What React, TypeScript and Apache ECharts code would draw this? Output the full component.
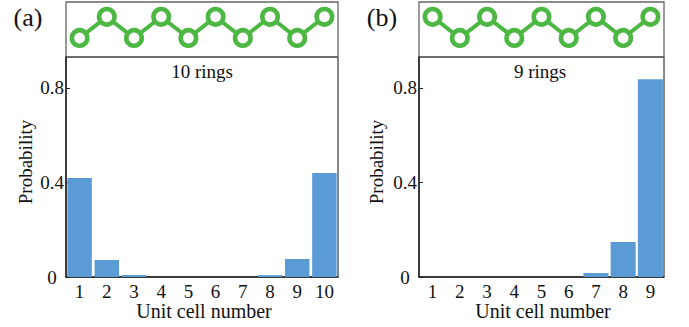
import React, { useEffect, useRef } from "react";
import * as echarts from "echarts";

// ---- data ----
const cellsA = ["1", "2", "3", "4", "5", "6", "7", "8", "9", "10"];
const probA = [0.419, 0.072, 0.008, 0.0, 0.0, 0.0, 0.0, 0.008, 0.076, 0.44];
const ringsA = [0, 1, 0, 1, 0, 1, 0, 1, 0, 1];

const cellsB = ["1", "2", "3", "4", "5", "6", "7", "8", "9"];
const probB = [0.0, 0.0, 0.0, 0.0, 0.0, 0.0, 0.017, 0.148, 0.836];
const ringsB = [1, 0, 1, 0, 1, 0, 1, 0, 1];

const yTicks = [0, 0.4, 0.8];
const yMax = 0.93;

const titleA = "10 rings";
const titleB = "9 rings";
const xName = "Unit cell number";
const yName = "Probability";

const FONT = "'Liberation Serif', 'Times New Roman', serif";
const BAR = "#5b9bd5";
const GREEN = "#4cb843";
const AXIS = "#222";

function plotX(gridIndex: number, data: string[]) {
  return {
    type: "category",
    gridIndex,
    data,
    boundaryGap: true,
    axisLine: { show: true, lineStyle: { color: AXIS, width: 1.5 } },
    axisTick: { show: false },
    axisLabel: { color: "#111", fontFamily: FONT, fontSize: 19, margin: 5, interval: 0 },
    splitLine: { show: false },
  };
}
function plotY(gridIndex: number) {
  return {
    type: "value",
    gridIndex,
    min: 0,
    max: yMax,
    axisLine: { show: true, lineStyle: { color: AXIS, width: 1.5 } },
    axisTick: { show: true, inside: true, length: 4, customValues: yTicks, lineStyle: { color: AXIS } },
    axisLabel: {
      customValues: yTicks,
      color: "#111",
      fontFamily: FONT,
      fontSize: 19,
      align: "center",
      margin: 14,
      formatter: (v: number) => String(v),
    },
    splitLine: { show: false },
  };
}
function boxX(gridIndex: number, data: string[]) {
  return { type: "category", gridIndex, data, boundaryGap: true, show: false };
}
function boxY(gridIndex: number) {
  return { type: "value", gridIndex, min: -0.9, max: 1.7, show: false };
}
function chain(xi: number, data: number[]) {
  return {
    type: "line",
    xAxisIndex: xi,
    yAxisIndex: xi,
    data,
    symbol: "circle",
    symbolSize: 15.5,
    lineStyle: { color: GREEN, width: 4 },
    itemStyle: { color: "#fff", borderColor: GREEN, borderWidth: 4.6 },
    z: 5,
  };
}
function txt(text: string, x: number, y: number, size: number, rotation = 0) {
  return {
    type: "text",
    x,
    y,
    rotation,
    style: {
      text,
      fill: "#111",
      fontFamily: FONT,
      fontSize: size,
      align: "center",
      verticalAlign: "middle",
    },
    z: 10,
  };
}

export default function App() {
  const ref = useRef<HTMLDivElement>(null);
  useEffect(() => {
    if (!ref.current) return;
    const chart = echarts.init(ref.current, undefined, { renderer: "svg" });
    chart.setOption({
      animation: false,
      backgroundColor: "#fff",
      grid: [
        { left: 66, top: 57, width: 272, height: 220, show: true, borderColor: "#111", borderWidth: 1, backgroundColor: "transparent" },
        { left: 66, top: 2, width: 272, height: 55, show: true, borderColor: "#666", borderWidth: 1.3, backgroundColor: "transparent" },
        { left: 419, top: 57, width: 245, height: 220, show: true, borderColor: "#111", borderWidth: 1, backgroundColor: "transparent" },
        { left: 419, top: 2, width: 245, height: 55, show: true, borderColor: "#666", borderWidth: 1.3, backgroundColor: "transparent" },
      ],
      xAxis: [plotX(0, cellsA), boxX(1, cellsA), plotX(2, cellsB), boxX(3, cellsB)],
      yAxis: [plotY(0), boxY(1), plotY(2), boxY(3)],
      series: [
        { type: "bar", xAxisIndex: 0, yAxisIndex: 0, data: probA, barCategoryGap: "10%", itemStyle: { color: BAR } },
        chain(1, ringsA),
        { type: "bar", xAxisIndex: 2, yAxisIndex: 2, data: probB, barCategoryGap: "8%", itemStyle: { color: BAR } },
        chain(3, ringsB),
      ],
      graphic: [
        txt("(a)", 28, 17, 26),
        txt("(b)", 382, 17, 26),
        txt(titleA, 202, 71, 19),
        txt(titleB, 540, 71, 19),
        txt(xName, 204, 311, 20),
        txt(xName, 543, 311, 20),
        txt(yName, 25, 162, 19, Math.PI / 2),
        txt(yName, 376, 162, 19, Math.PI / 2),
      ],
    });
    return () => chart.dispose();
  }, []);
  return (
    <div
      ref={ref}
      style={{ position: "fixed", left: 0, top: 0, width: 689, height: 327, background: "#fff" }}
    />
  );
}
